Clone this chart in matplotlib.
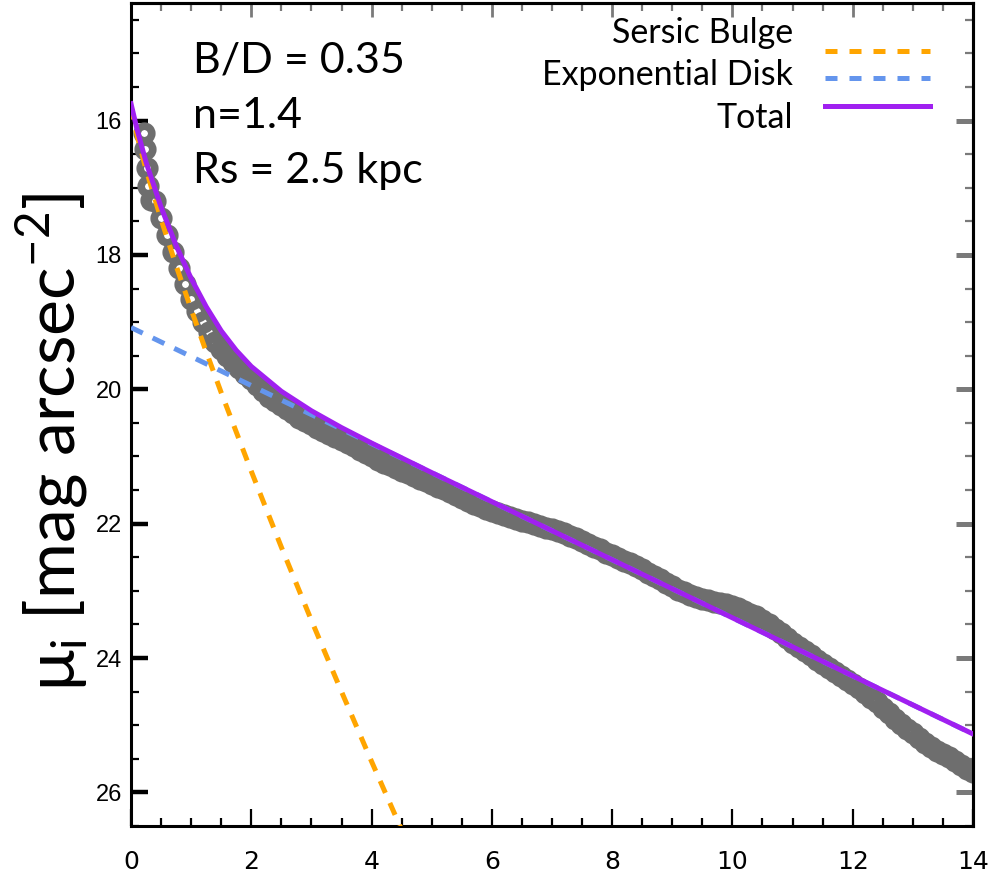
import numpy as np
import matplotlib.pyplot as plt
from matplotlib.ticker import MultipleLocator

# surface brightness profile (kpc, mag/arcsec^2)
r_core = [0.21, 0.24, 0.26, 0.29, 0.34]
mu_core = [16.18, 16.43, 16.70, 16.98, 17.18]
r_prof = np.round(np.arange(0.4, 14.01, 0.1), 2)
mu_prof = [17.20, 17.45, 17.70, 17.95, 18.20, 18.43, 18.65, 18.83, 19.00, 19.15,
           19.30, 19.40, 19.50, 19.60, 19.68, 19.77, 19.85, 19.93, 20.02, 20.11,
           20.18, 20.24, 20.30, 20.36, 20.42, 20.47, 20.52, 20.57, 20.62, 20.67,
           20.71, 20.76, 20.80, 20.85, 20.90, 20.95, 21.00, 21.05, 21.09, 21.13,
           21.17, 21.21, 21.25, 21.29, 21.33, 21.37, 21.41, 21.45, 21.49, 21.53,
           21.58, 21.62, 21.66, 21.70, 21.74, 21.78, 21.81, 21.84, 21.87, 21.90,
           21.93, 21.96, 21.98, 22.01, 22.03, 22.06, 22.08, 22.11, 22.14, 22.18,
           22.22, 22.26, 22.30, 22.34, 22.38, 22.43, 22.47, 22.51, 22.55, 22.59,
           22.63, 22.68, 22.73, 22.78, 22.83, 22.88, 22.93, 22.98, 23.02, 23.06,
           23.09, 23.12, 23.14, 23.16, 23.18, 23.20, 23.22, 23.26, 23.30, 23.34,
           23.38, 23.44, 23.50, 23.57, 23.63, 23.70, 23.77, 23.84, 23.90, 23.96,
           24.03, 24.09, 24.15, 24.21, 24.26, 24.32, 24.38, 24.45, 24.52, 24.59,
           24.66, 24.74, 24.82, 24.90, 24.98, 25.05, 25.12, 25.19, 25.26, 25.33,
           25.38, 25.43, 25.48, 25.53, 25.59, 25.65, 25.70]

# model components
r_bulge = [0.0, 0.1, 0.25, 0.5, 0.75, 1.0, 1.25, 1.5, 2.0, 2.5, 3.0, 3.5, 4.0, 4.6]
mu_bulge = [15.79, 16.22, 16.73, 17.47, 18.16, 18.81, 19.44, 20.05, 21.22, 22.35,
            23.44, 24.50, 25.54, 26.76]
r_disk = [0.0, 14.0]
mu_disk = [19.08, 25.13]
r_total = [0.0, 0.1, 0.25, 0.5, 0.75, 1.0, 1.25, 1.5, 1.75, 2.0, 2.5, 3.0, 3.5,
           4.0, 5.0, 14.0]
mu_total = [15.75, 16.13, 16.62, 17.29, 17.86, 18.35, 18.77, 19.13, 19.42, 19.66,
            20.03, 20.32, 20.57, 20.80, 21.24, 25.13]

fit_text = ["B/D = 0.35", "n=1.4", "Rs = 2.5 kpc"]
legend_labels = ["Sersic Bulge", "Exponential Disk", "Total"]

c_data = "#6e6e6e"
c_bulge = "#ffa500"
c_disk = "#6495ed"
c_total = "#a020f0"
c_tick2 = "#7a7a7a"
sans = ["Lato", "DejaVu Sans"]

fig = plt.figure(figsize=(10.04, 8.84), dpi=100)
ax = fig.add_axes([0.1305, 0.0656, 0.8386, 0.931])

ax.plot(np.concatenate([r_core, r_prof]), np.concatenate([mu_core, mu_prof]),
        ls="none", marker="o", ms=10.5, mew=5.5, mfc="none", mec=c_data, zorder=2)
ax.plot(r_bulge, mu_bulge, color=c_bulge, lw=3.6, dashes=(2.6, 2.2), zorder=3)
ax.plot(r_disk, mu_disk, color=c_disk, lw=3.6, dashes=(2.6, 2.2), zorder=3)
ax.plot(r_total, mu_total, color=c_total, lw=3.6, zorder=4)

ax.set_xlim(0, 14)
ax.set_ylim(26.5, 14.25)

for sp in ax.spines.values():
    sp.set_linewidth(2.2)

ax.xaxis.set_major_locator(MultipleLocator(2))
ax.xaxis.set_minor_locator(MultipleLocator(0.5))
ax.yaxis.set_major_locator(MultipleLocator(2))
ax.yaxis.set_minor_locator(MultipleLocator(0.5))
ax.tick_params(which="both", direction="in", color="black", top=False, right=False)
ax.tick_params(axis="x", which="major", length=12, width=1.6, pad=17)
ax.tick_params(axis="x", which="minor", length=6, width=1.6)
ax.tick_params(axis="y", which="major", length=12, width=3.2, pad=6.5)
ax.tick_params(axis="y", which="minor", length=6, width=1.6)
for lab in ax.get_xticklabels():
    lab.set_fontfamily(["Liberation Sans Narrow", "DejaVu Sans"])
    lab.set_fontsize(18)
for lab in ax.get_yticklabels():
    lab.set_fontfamily(["Liberation Sans", "DejaVu Sans"])
    lab.set_fontsize(17)

# grey ticks along the top and right edges
top = ax.secondary_xaxis("top")
top.xaxis.set_major_locator(MultipleLocator(2))
top.xaxis.set_minor_locator(MultipleLocator(0.5))
top.tick_params(which="both", direction="in", color=c_tick2, labeltop=False)
top.tick_params(which="major", length=10, width=2)
top.tick_params(which="minor", length=6, width=1.6)
right = ax.secondary_yaxis("right")
right.yaxis.set_major_locator(MultipleLocator(2))
right.yaxis.set_minor_locator(MultipleLocator(0.5))
right.tick_params(which="both", direction="in", color=c_tick2, labelright=False)
right.tick_params(which="major", length=12, width=3.6)
right.tick_params(which="minor", length=6, width=1.6)
for sec in (top, right):
    for sp in sec.spines.values():
        sp.set_linewidth(2.2)

# y label placed by its baseline so the superscript stays on the canvas
fig.text(0.075, 0.50, "μ$_\\mathregular{i}$ [mag arcsec$^\\mathregular{-2}$]",
         rotation=90, rotation_mode="anchor", ha="center", va="baseline",
         fontsize=49, family=sans)

for txt, yy in zip(fit_text, [0.916, 0.848, 0.781]):
    ax.text(0.0736, yy, txt, transform=ax.transAxes, fontsize=31,
            family=sans, va="baseline", ha="left")

# legend drawn by hand: labels right-aligned, samples to the right
styles = [dict(color=c_bulge, lw=3.6, dashes=(2.4, 2.4)),
          dict(color=c_disk, lw=3.6, dashes=(2.4, 2.4)),
          dict(color=c_total, lw=3.6)]
for lab, ty, hy, st in zip(legend_labels, [0.951, 0.900, 0.848],
                           [0.942, 0.909, 0.875], styles):
    ax.text(0.786, ty, lab, transform=ax.transAxes, fontsize=24.5,
            family=sans, va="baseline", ha="right")
    ax.plot([0.824, 0.949], [hy, hy], transform=ax.transAxes, **st)

fig.savefig("out.png", dpi=100)
